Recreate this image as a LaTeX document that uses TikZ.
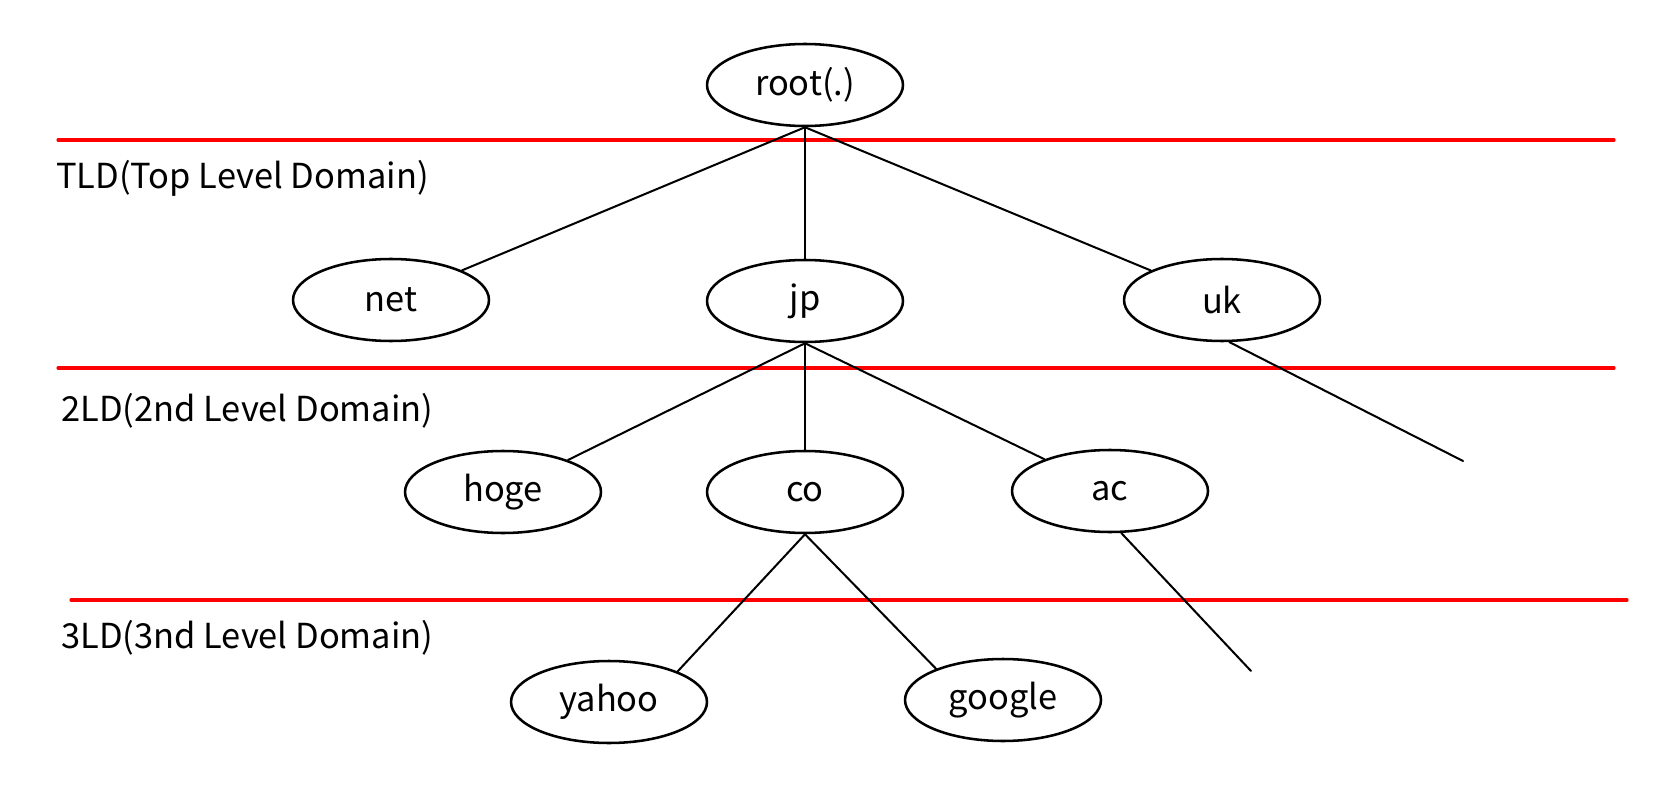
\documentclass[tikz,border=0pt]{standalone}
\usepackage{fontspec}
\setmainfont{Noto Sans CJK JP}
\usetikzlibrary{shapes.geometric}
\begin{document}
\begin{tikzpicture}[x=0.02cm,y=-0.02cm,line join=round,line cap=round,font=\fontsize{19.6}{23}\selectfont,
	dom/.style={draw,ellipse,line width=1.45pt,minimum width=3.92cm,minimum height=1.64cm,inner sep=0pt},
	edge/.style={line width=1.15pt},
	level/.style={red,line width=1.8pt}]
	\useasboundingbox (0,0) rectangle (1662,800);
	% levels
	\draw[level] (58,140)--(1614,140);
	\draw[level] (58,368)--(1614,368);
	\draw[level] (71,600)--(1627,600);
	\node[anchor=west] (tld) at (50,178) {TLD(Top Level Domain)};
	\node[anchor=west] (sld) at (55,411) {2LD(2nd Level Domain)};
	\node[anchor=west] (thld) at (55,638) {3LD(3nd Level Domain)};
	% domains
	\node[dom] (root) at (805,85) {root(.)};
	\node[dom] (net) at (391,300) {net};
	\node[dom] (jp) at (805,301) {jp};
	\node[dom] (uk) at (1222,300) {uk};
	\node[dom] (hoge) at (503,492) {hoge};
	\node[dom] (co) at (805,492) {co};
	\node[dom] (ac) at (1110,491) {ac};
	\node[dom] (yahoo) at (609,702) {yahoo};
	\node[dom] (google) at (1003,700) {google};
	\coordinate (ukend) at (1463,461);
	\coordinate (acend) at (1251,671);
	\foreach \a/\b in {root.south/net,root.south/jp.north,root.south/uk,jp.south/hoge,jp.south/co.north,jp.south/ac,co.south/yahoo.24,co.south/google.155}
		\draw[edge] (\a)--(\b);
	\draw[edge] (uk.-80)--(ukend);
	\draw[edge] (ac.-75)--(acend);
\end{tikzpicture}
\end{document}
